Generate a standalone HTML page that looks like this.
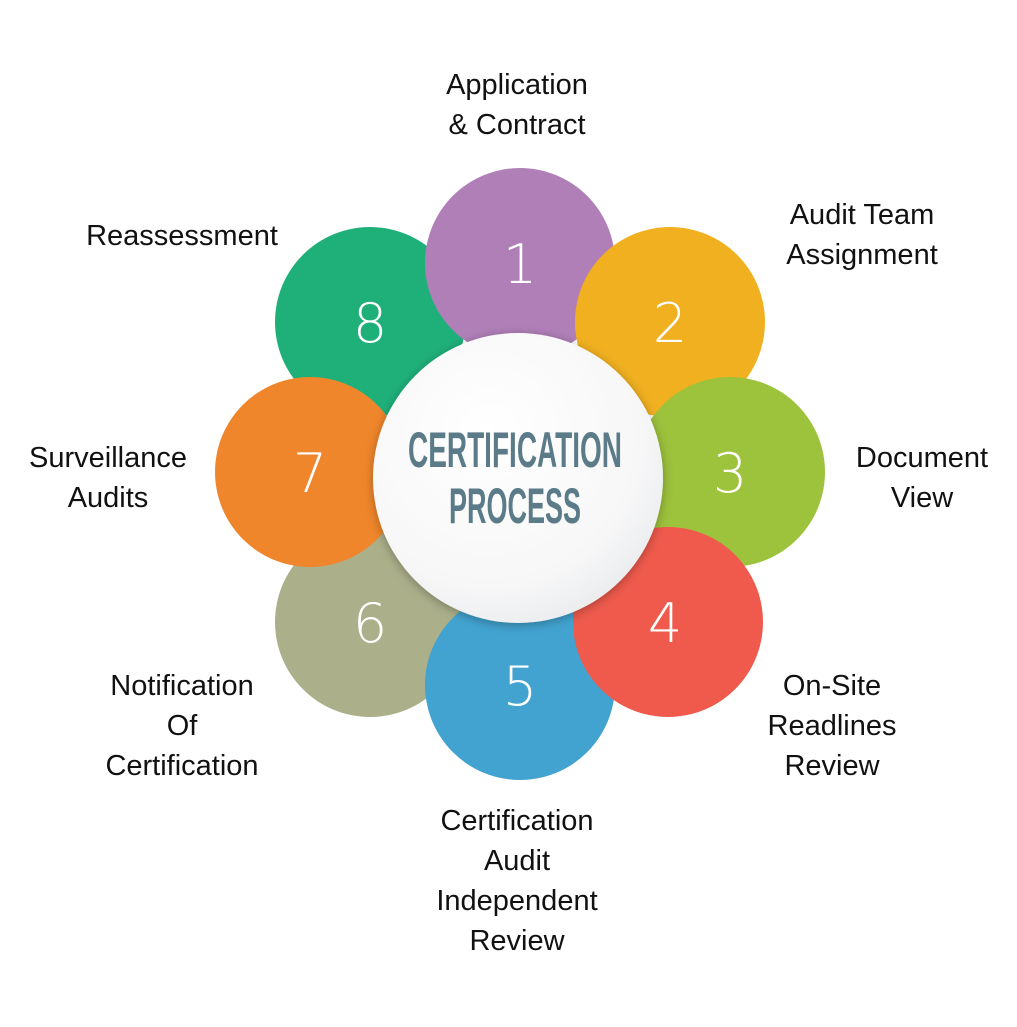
<!DOCTYPE html>
<html><head><meta charset="utf-8"><style>
html,body{margin:0;padding:0;background:#fff}
svg{display:block}
.l{font-family:"Liberation Sans","DejaVu Sans",sans-serif;font-size:29px;fill:#111;text-anchor:middle}
.n{font-family:"DejaVu Sans","Liberation Sans",sans-serif;font-size:54px;fill:#fff;font-weight:200;text-anchor:middle}
.c{font-family:"Liberation Sans",sans-serif;font-weight:bold;font-size:50px;fill:#5b7b88;text-anchor:middle}
</style></head><body>
<svg width="1017" height="1027" viewBox="0 0 1017 1027">
<defs>
<radialGradient id="g" cx="0.4" cy="0.35" r="0.75">
<stop offset="0" stop-color="#ffffff"/><stop offset="0.7" stop-color="#f7f7f8"/><stop offset="1" stop-color="#e6e8ea"/>
</radialGradient>
<filter id="s" x="-20%" y="-20%" width="140%" height="140%"><feDropShadow dx="0" dy="2" stdDeviation="5" flood-opacity="0.3"/></filter>
</defs>
<circle cx="370" cy="622" r="95" fill="#abaf8a"/>
<circle cx="370" cy="322" r="95" fill="#1fb07a"/>
<circle cx="520" cy="263" r="95" fill="#b07fb8"/>
<circle cx="670" cy="322" r="95" fill="#f0b020"/>
<circle cx="730" cy="472" r="95" fill="#9dc23c"/>
<circle cx="520" cy="685" r="95" fill="#42a3d0"/>
<circle cx="668" cy="622" r="95" fill="#ef5a4c"/>
<circle cx="310" cy="472" r="95" fill="#f0862b"/>
<circle cx="518" cy="478" r="145" fill="url(#g)" filter="url(#s)"/>
<text class="n" x="520" y="283">1</text>
<text class="n" x="670" y="342">2</text>
<text class="n" x="730" y="492">3</text>
<text class="n" x="665" y="642">4</text>
<text class="n" x="520" y="705">5</text>
<text class="n" x="370" y="642">6</text>
<text class="n" x="310" y="492">7</text>
<text class="n" x="370" y="342">8</text>
<text class="c" x="515" y="467" textLength="214" lengthAdjust="spacingAndGlyphs">CERTIFICATION</text>
<text class="c" x="515" y="523" textLength="132" lengthAdjust="spacingAndGlyphs">PROCESS</text>
<text class="l" x="517" y="94">Application</text>
<text class="l" x="517" y="134">&amp; Contract</text>
<text class="l" x="862" y="224">Audit Team</text>
<text class="l" x="862" y="264">Assignment</text>
<text class="l" x="922" y="467">Document</text>
<text class="l" x="922" y="507">View</text>
<text class="l" x="832" y="695">On-Site</text>
<text class="l" x="832" y="735">Readlines</text>
<text class="l" x="832" y="775">Review</text>
<text class="l" x="517" y="830">Certification</text>
<text class="l" x="517" y="870">Audit</text>
<text class="l" x="517" y="910">Independent</text>
<text class="l" x="517" y="950">Review</text>
<text class="l" x="182" y="695">Notification</text>
<text class="l" x="182" y="735">Of</text>
<text class="l" x="182" y="775">Certification</text>
<text class="l" x="108" y="467">Surveillance</text>
<text class="l" x="108" y="507">Audits</text>
<text class="l" x="182" y="245">Reassessment</text>
</svg>
</body></html>
